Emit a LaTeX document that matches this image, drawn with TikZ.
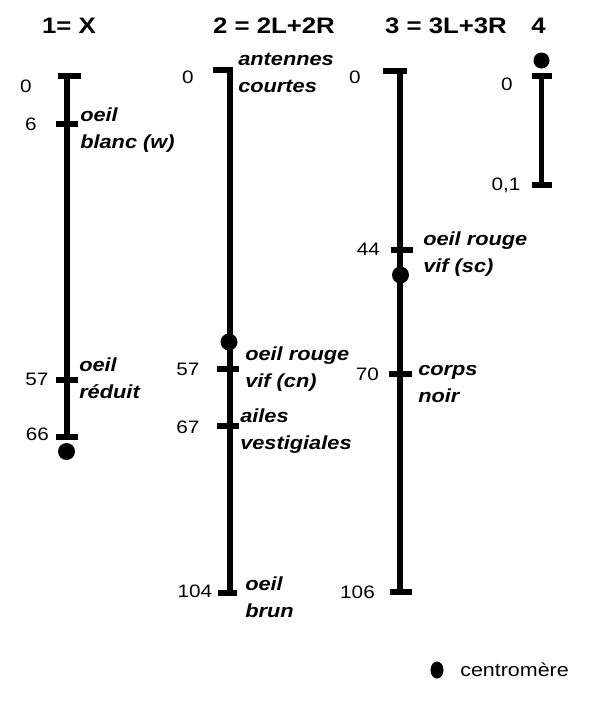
\documentclass[tikz,border=0pt]{standalone}
\usepackage{fontspec}
\usetikzlibrary{shapes.geometric}
\setmainfont{Liberation Sans}[FakeStretch=1.15]
\begin{document}
\begin{tikzpicture}[x=0.75pt,y=-0.75pt,
  chrom/.style={line width=4.2pt},
  tickbox/.style={fill=black,inner sep=0,minimum height=4.5pt,minimum width=16.5pt},
  cen/.style={circle,fill=black,inner sep=0,minimum size=12.75pt},
  num/.style={font=\fontsize{13.5}{16}\selectfont,inner sep=0,anchor=base},
  lab/.style={font=\fontsize{14.2}{20.25}\selectfont\bfseries\itshape,align=left,anchor=north west,inner sep=0},
  ttl/.style={font=\fontsize{16.8}{20}\selectfont\bfseries,inner sep=0,anchor=base}]
\useasboundingbox (0,0) rectangle (609,701);
\newcommand{\st}{\rule{0pt}{10.5pt}}
% titles
\node[ttl] (T1) at (69,33) {1= X};
\node[ttl] (T2) at (274,33) {2 = 2L+2R};
\node[ttl] (T3) at (446,33) {3 = 3L+3R};
\node[ttl] (T4) at (538.5,33) {4};
% chromosome 1
\coordinate (a1) at (67,76); \coordinate (b1) at (67,436);
\draw[chrom] (a1) -- (b1);
\node[tickbox,minimum width=17.25pt] (k1a) at (69.5,76) {};
\node[tickbox] (k1b) at (66.5,123.5) {};
\node[tickbox] (k1c) at (66.5,380) {};
\node[tickbox] (k1d) at (66.5,436.5) {};
\node[cen] (c1) at (66.5,451.5) {};
\node[num] (n1a) at (26,92) {0};
\node[num] (n1b) at (31,130) {6};
\node[num] (n1c) at (37,385) {57};
\node[num] (n1d) at (37.5,440) {66};
\node[lab] (l1a) at (80,107) {\st oeil\\blanc (w)};
\node[lab] (l1b) at (79,357) {\st oeil\\réduit};
% chromosome 2
\coordinate (a2) at (230,70); \coordinate (b2) at (230,593);
\draw[chrom] (a2) -- (b2);
\node[tickbox,minimum width=15pt] (k2a) at (223,70) {};
\node[tickbox] (k2b) at (227.5,368.5) {};
\node[tickbox] (k2c) at (227.5,425.5) {};
\node[tickbox,minimum width=14.5pt] (k2d) at (227.5,593) {};
\node[cen] (c2) at (229,342) {};
\node[num] (n2a) at (188,83) {0};
\node[num] (n2b) at (188,375) {57};
\node[num] (n2c) at (188,433) {67};
\node[num] (n2d) at (195,597) {104};
\node[lab] (l2a) at (238,51) {\st antennes\\courtes};
\node[lab] (l2b) at (245,346) {\st oeil rouge\\vif (cn)};
\node[lab] (l2c) at (240,408) {\st ailes\\vestigiales};
\node[lab] (l2d) at (245,576) {\st oeil\\brun};
% chromosome 3
\coordinate (a3) at (400,70.5); \coordinate (b3) at (400,592);
\draw[chrom] (a3) -- (b3);
\node[tickbox,minimum width=18pt] (k3a) at (395,70.5) {};
\node[tickbox] (k3b) at (401.5,249.5) {};
\node[tickbox,minimum width=17.25pt] (k3c) at (400.5,374) {};
\node[tickbox] (k3d) at (401,592) {};
\node[cen] (c3) at (400.5,275) {};
\node[num] (n3a) at (355,83) {0};
\node[num] (n3b) at (368.5,255) {44};
\node[num] (n3c) at (367.5,380) {70};
\node[num] (n3d) at (357.5,598) {106};
\node[lab] (l3a) at (423,231) {\st oeil rouge\\vif (sc)};
\node[lab] (l3b) at (418,361) {\st corps\\noir};
% chromosome 4
\coordinate (a4) at (541.5,75.5); \coordinate (b4) at (541.5,184.5);
\draw[chrom] (a4) -- (b4);
\node[tickbox,minimum width=15pt] (k4a) at (542,75.5) {};
\node[tickbox,minimum width=15pt] (k4b) at (542,184.5) {};
\node[cen,minimum size=12pt] (c4) at (541.5,60.5) {};
\node[num] (n4a) at (507,90) {0};
\node[num] (n4b) at (506,190) {0,1};
% legend
\node[ellipse,fill=black,inner sep=0,minimum width=9.75pt,minimum height=12.75pt] (lg) at (437,670) {};
\node[font=\fontsize{14}{16}\selectfont,inner sep=0,anchor=base west] (lgt) at (460,676) {centromère};
\end{tikzpicture}
\end{document}
